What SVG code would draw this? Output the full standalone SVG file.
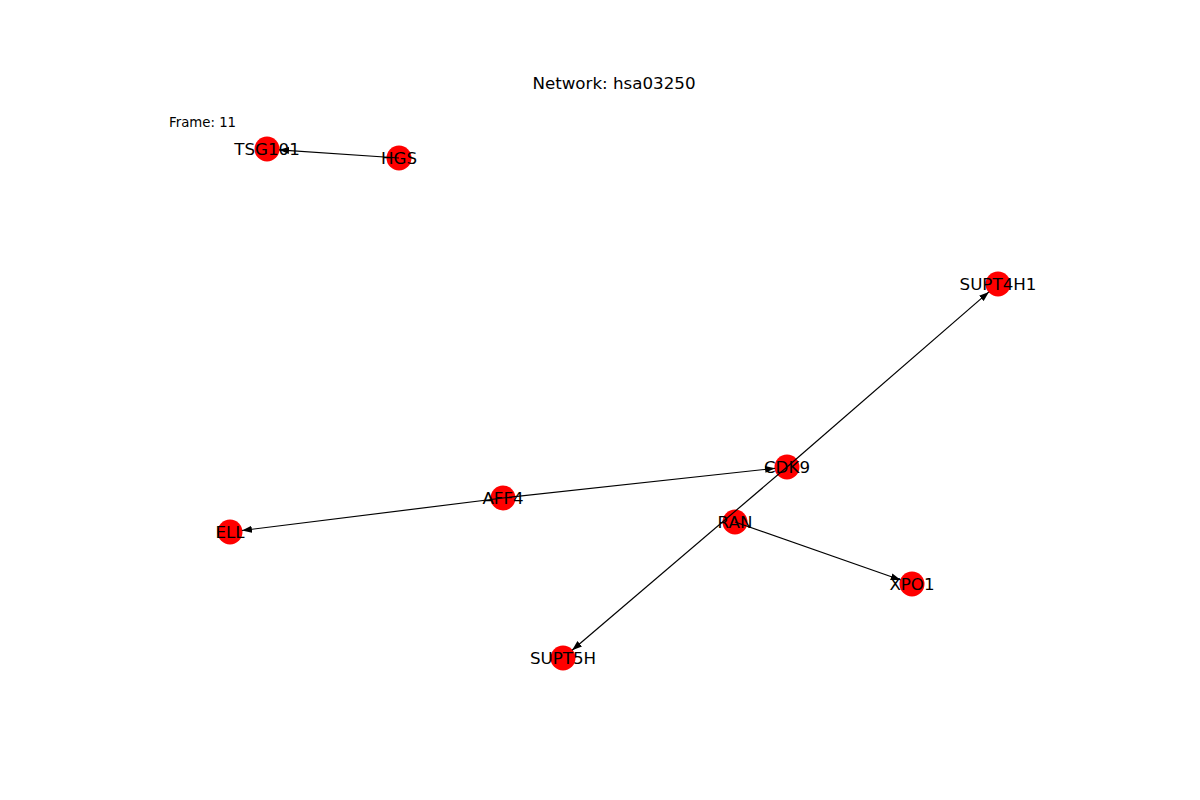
<svg xmlns="http://www.w3.org/2000/svg" width="1200" height="800" viewBox="0 0 1200 800">
<style>
.node circle{fill:#ff0000;stroke:none}
.node text{font-family:"DejaVu Sans",sans-serif;font-size:16.7px;fill:#000;text-anchor:middle;dominant-baseline:central}
.edge{stroke:#000;stroke-width:1.2;fill:none;marker-end:url(#arr)}
.title{font-family:"DejaVu Sans",sans-serif;font-size:16.7px;fill:#000;text-anchor:middle}
.frame{font-family:"DejaVu Sans",sans-serif;font-size:13.3px;fill:#000}
</style>
<defs>
<marker id="arr" markerUnits="userSpaceOnUse" markerWidth="10" markerHeight="8" refX="10" refY="4" orient="auto">
<path d="M0,0.5 L10,4 L0,7.5 z" fill="#000"/>
</marker>
</defs>
<rect width="1200" height="800" fill="#fff"/>
<text class="title" x="614" y="89">Network: hsa03250</text>
<text class="frame" x="169" y="127">Frame: 11</text>
<g id="nodes-circles">
<g id="node-TSG101" class="node"><circle cx="267" cy="149" r="12.5"/></g>
<g id="node-HGS" class="node"><circle cx="399" cy="158" r="12.5"/></g>
<g id="node-SUPT4H1" class="node"><circle cx="998" cy="284" r="12.5"/></g>
<g id="node-CDK9" class="node"><circle cx="787" cy="467" r="12.5"/></g>
<g id="node-AFF4" class="node"><circle cx="503" cy="498" r="12.5"/></g>
<g id="node-ELL" class="node"><circle cx="230" cy="532" r="12.5"/></g>
<g id="node-RAN" class="node"><circle cx="735" cy="522" r="12.5"/></g>
<g id="node-XPO1" class="node"><circle cx="912" cy="584" r="12.5"/></g>
<g id="node-SUPT5H" class="node"><circle cx="563" cy="658" r="12.5"/></g>
</g>
<g id="connectors">
<path class="edge" d="M399,158 L279,149.8"/>
<path class="edge" d="M503,498 L775.1,468.3"/>
<path class="edge" d="M503,498 L241.9,530.5"/>
<path class="edge" d="M787,467 L988.9,291.9"/>
<path class="edge" d="M787,467 L572.1,650.2"/>
<path class="edge" d="M735,522 L900.7,580"/>
</g>
<g id="labels" class="node">
<text x="267" y="149">TSG101</text>
<text x="399" y="158">HGS</text>
<text x="998" y="284">SUPT4H1</text>
<text x="787" y="467">CDK9</text>
<text x="503" y="498">AFF4</text>
<text x="230" y="532">ELL</text>
<text x="735" y="522">RAN</text>
<text x="912" y="584">XPO1</text>
<text x="563" y="658">SUPT5H</text>
</g>
</svg>
